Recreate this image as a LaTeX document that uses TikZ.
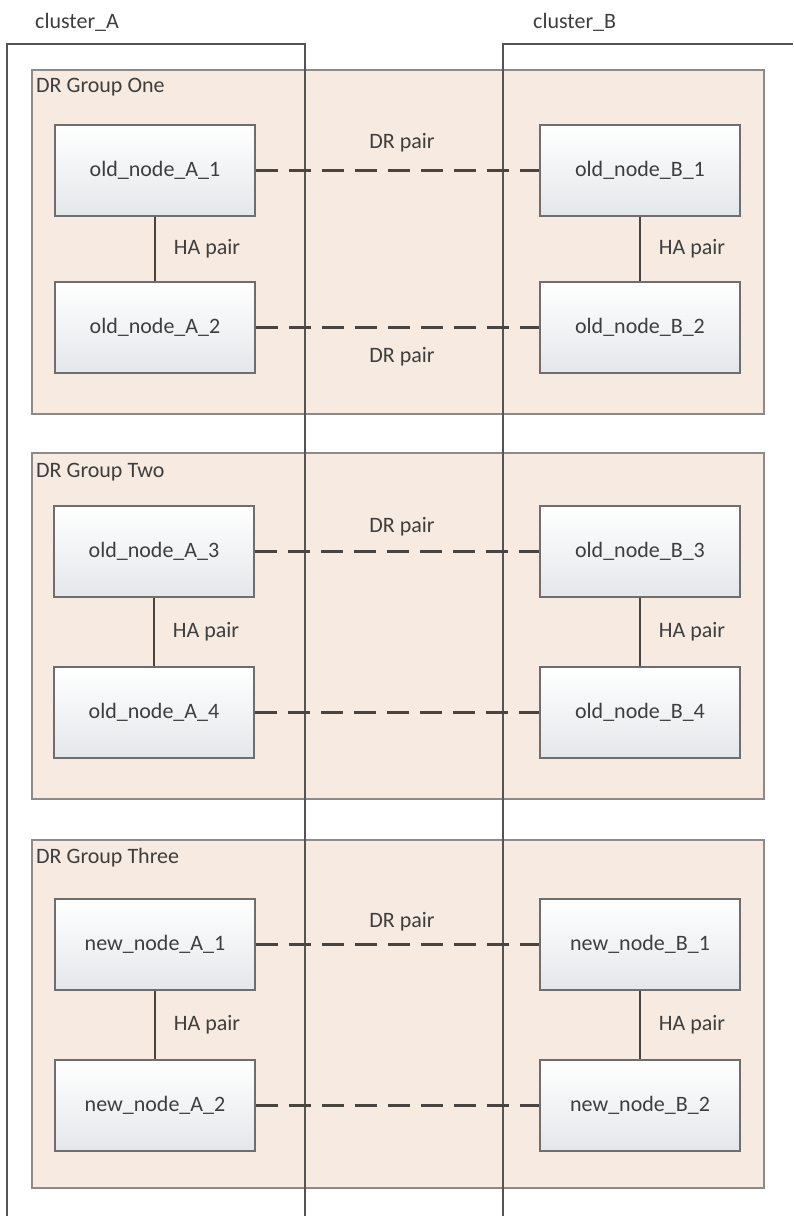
\documentclass[tikz,border=0pt]{standalone}
\usepackage{fontspec}
\setmainfont{Carlito}
\definecolor{txtgray}{HTML}{3E3E3E}
\definecolor{groupfill}{HTML}{F6EAE1}
\definecolor{groupedge}{HTML}{8E8A88}
\definecolor{clusteredge}{HTML}{555353}
\definecolor{nodeedge}{HTML}{6E6E6E}
\definecolor{nodebottom}{HTML}{E4E7EA}
\definecolor{linkcol}{HTML}{4A4440}
\begin{document}
\begin{tikzpicture}[x=1pt,y=-1pt,
  every node/.style={font=\fontsize{22}{26}\selectfont, text=txtgray},
  groupbox/.style={draw=groupedge, line width=1.6pt, fill=groupfill, anchor=north west, inner sep=0pt},
  grouplabel/.style={anchor=west, inner sep=0pt},
  clusterline/.style={draw=clusteredge, line width=1.3pt},
  machine/.style={draw=nodeedge, line width=1.5pt, top color=white, bottom color=nodebottom,
    minimum width=200pt, minimum height=91pt, inner sep=0pt},
  drlink/.style={draw=linkcol, line width=3pt, dash pattern=on 22pt off 11pt},
  halink/.style={draw=linkcol, line width=1.8pt},
  linklabel/.style={inner sep=0pt}
]
\useasboundingbox (0,0) rectangle (793,1216);

% DR groups
\node[groupbox, minimum width=732pt, minimum height=344pt] (g1) at (31,69) {};
\node[groupbox, minimum width=732pt, minimum height=346pt] (g2) at (31,452) {};
\node[groupbox, minimum width=732pt, minimum height=348pt] (g3) at (31,839) {};
\node[grouplabel] (g1t) at (36,87) {DR Group One};
\node[grouplabel] (g2t) at (36,472) {DR Group Two};
\node[grouplabel] (g3t) at (36,858) {DR Group Three};

% cluster frames (open at the bottom and on the right)
\draw[clusterline] (7,1216) -- (7,44) -- (305,44) -- (305,1216);
\draw[clusterline] (503,1216) -- (503,44) -- (793,44);
\node[anchor=west, inner sep=0pt] (ca) at (35,22) {cluster\_A};
\node[anchor=west, inner sep=0pt] (cb) at (533,22) {cluster\_B};

% controllers
\node[machine] (oa1) at (155,170.5) {old\_node\_A\_1};
\node[machine] (oa2) at (155,327.5) {old\_node\_A\_2};
\node[machine] (ob1) at (640,170.5) {old\_node\_B\_1};
\node[machine] (ob2) at (640,327.5) {old\_node\_B\_2};
\node[machine] (oa3) at (154,551.5) {old\_node\_A\_3};
\node[machine] (oa4) at (154,712.5) {old\_node\_A\_4};
\node[machine] (ob3) at (640,551.5) {old\_node\_B\_3};
\node[machine] (ob4) at (640,712.5) {old\_node\_B\_4};
\node[machine] (na1) at (155,944.5) {new\_node\_A\_1};
\node[machine] (na2) at (155,1105.5) {new\_node\_A\_2};
\node[machine] (nb1) at (640,944.5) {new\_node\_B\_1};
\node[machine] (nb2) at (640,1105.5) {new\_node\_B\_2};

% DR pairs
\draw[drlink] (oa1) -- (ob1);
\draw[drlink] (oa2) -- (ob2);
\draw[drlink] (oa3) -- (ob3);
\draw[drlink] (oa4) -- (ob4);
\draw[drlink] (na1) -- (nb1);
\draw[drlink] (na2) -- (nb2);
\node[linklabel] (dr1) at (402,143) {DR pair};
\node[linklabel] (dr2) at (402,357) {DR pair};
\node[linklabel] (dr3) at (402,527) {DR pair};
\node[linklabel] (dr5) at (402,922) {DR pair};

% HA pairs
\draw[halink] (oa1) -- (oa2) node[midway, right=18pt, inner sep=0pt] {HA pair};
\draw[halink] (ob1) -- (ob2) node[midway, right=18pt, inner sep=0pt] {HA pair};
\draw[halink] (oa3) -- (oa4) node[midway, right=18pt, inner sep=0pt] {HA pair};
\draw[halink] (ob3) -- (ob4) node[midway, right=18pt, inner sep=0pt] {HA pair};
\draw[halink] (na1) -- (na2) node[midway, right=18pt, inner sep=0pt] {HA pair};
\draw[halink] (nb1) -- (nb2) node[midway, right=18pt, inner sep=0pt] {HA pair};
\end{tikzpicture}
\end{document}
